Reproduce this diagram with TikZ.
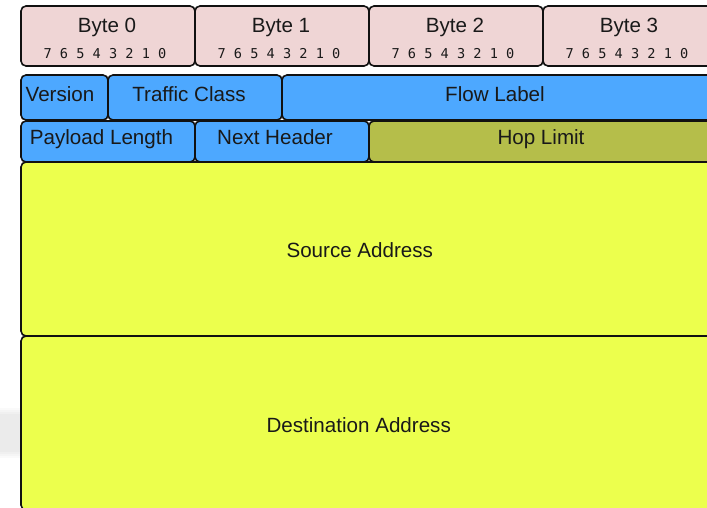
\documentclass[tikz,border=0pt]{standalone}
\usepackage{fontspec}
\setmainfont{Liberation Sans}
\newfontfamily\bitfont{DejaVu Sans Mono}
\definecolor{bytepink}{RGB}{239,213,213}
\definecolor{fieldblue}{RGB}{77,168,255}
\definecolor{hopolive}{RGB}{181,190,74}
\definecolor{addryellow}{RGB}{236,255,77}
\definecolor{edge}{RGB}{17,17,17}
\definecolor{txt}{RGB}{25,25,25}
\begin{document}
\begin{tikzpicture}[x=1pt,y=-1pt,
  field/.style={draw=edge, line width=1.6pt, rounded corners=5pt, inner sep=0pt, outer sep=0pt, anchor=north west},
  lbl/.style={font=\fontsize{20.6}{23}\selectfont, text=txt, inner sep=0pt, anchor=base},
  bits/.style={font=\bitfont\fontsize{13.6}{15}\selectfont, text=txt, inner sep=0pt, anchor=base}]
\clip (0,0) rectangle (707,507);
\fill[white] (0,0) rectangle (707,507);
% faint shadow at the left edge
\foreach \k in {0,1,2,3}{
  \fill[black, opacity=0.018] (0,408+2*\k) rectangle (20,458-2*\k);
}
% byte header row
\node[field, fill=bytepink, minimum width=174pt, minimum height=60pt] (b0) at (21,6) {};
\node[field, fill=bytepink, minimum width=174pt, minimum height=60pt] (b1) at (195,6) {};
\node[field, fill=bytepink, minimum width=174pt, minimum height=60pt] (b2) at (369,6) {};
\node[field, fill=bytepink, minimum width=174pt, minimum height=60pt] (b3) at (543,6) {};
\node[lbl] (b0t) at (107,32.3) {Byte 0};
\node[lbl] (b1t) at (281,32.3) {Byte 1};
\node[lbl] (b2t) at (455,32.3) {Byte 2};
\node[lbl] (b3t) at (629,32.3) {Byte 3};
\node[bits] (b0b) at (105,58.4) {7 6 5 4 3 2 1 0};
\node[bits] (b1b) at (279,58.4) {7 6 5 4 3 2 1 0};
\node[bits] (b2b) at (453,58.4) {7 6 5 4 3 2 1 0};
\node[bits] (b3b) at (627,58.4) {7 6 5 4 3 2 1 0};
% row 1
\node[field, fill=fieldblue, minimum width=87pt, minimum height=45pt] (ver) at (21,75) {};
\node[field, fill=fieldblue, minimum width=174pt, minimum height=45pt] (tc) at (108,75) {};
\node[field, fill=fieldblue, minimum width=435pt, minimum height=45pt] (fl) at (282,75) {};
\node[lbl] (vert) at (60,101.7) {Version};
\node[lbl] (tct) at (189,101.7) {Traffic Class};
\node[lbl] (flt) at (495,101.7) {Flow Label};
% row 2
\node[field, fill=fieldblue, minimum width=174pt, minimum height=41pt] (pl) at (21,121) {};
\node[field, fill=fieldblue, minimum width=174pt, minimum height=41pt] (nh) at (195,121) {};
\node[field, fill=hopolive, minimum width=348pt, minimum height=41pt] (hl) at (369,121) {};
\node[lbl] (plt) at (101.5,144.7) {Payload Length};
\node[lbl] (nht) at (275,144.7) {Next Header};
\node[lbl] (hlt) at (541,144.7) {Hop Limit};
% addresses
\node[field, fill=addryellow, minimum width=696pt, minimum height=174pt] (src) at (21,162) {};
\node[field, fill=addryellow, minimum width=696pt, minimum height=174pt] (dst) at (21,336) {};
\node[lbl] (srct) at (359.8,257.7) {Source Address};
\node[lbl] (dstt) at (358.7,432) {Destination Address};
\end{tikzpicture}
\end{document}
